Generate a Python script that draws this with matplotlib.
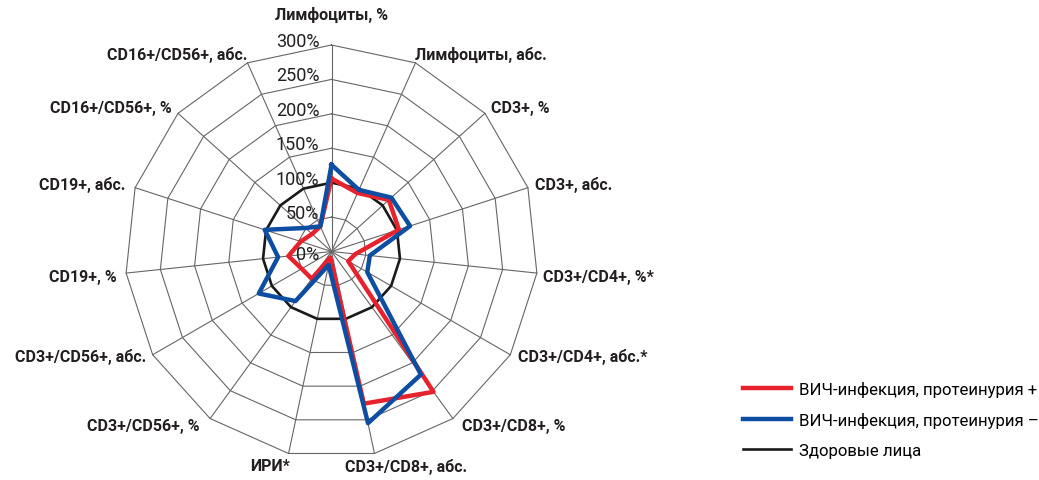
import numpy as np
import matplotlib
matplotlib.use('Agg')
import matplotlib.pyplot as plt

plt.rcParams['font.family'] = ['Roboto', 'DejaVu Sans']

# Показатели иммунного статуса, % от уровня здоровых лиц
categories = [
    'Лимфоциты, %', 'Лимфоциты, абс.', 'CD3+, %', 'CD3+, абс.',
    'CD3+/CD4+, %*', 'CD3+/CD4+, абс.*', 'CD3+/CD8+, %', 'CD3+/CD8+, абс.',
    'ИРИ*', 'CD3+/CD56+, %', 'CD3+/CD56+, абс.', 'CD19+, %',
    'CD19+, абс.', 'CD16+/CD56+, %', 'CD16+/CD56+, абс.',
]
hiv_prot_pos = [106, 93, 112, 103, 35, 28, 252, 226, 9, 49, 50, 63, 47, 38, 40]
hiv_prot_neg = [126, 98, 117, 120, 56, 60, 221, 255, 20, 89, 122, 78, 102, 51, 40]
healthy = [100] * 15
ring_levels = [0, 50, 100, 150, 200, 250, 300]
series_names = ['ВИЧ-инфекция, протеинурия +', 'ВИЧ-инфекция, протеинурия \u2013', 'Здоровые лица']

# сдвиги подписей категорий от вершины внешнего кольца, пиксели (x вправо, y вниз)
label_offsets = [
    ('center', 0, -31), ('left', 0, -9), ('left', 6, -6), ('left', 7, -4),
    ('left', 6, 3), ('left', 8, 1), ('left', 9, 7), ('left', -29, 12.5),
    ('right', 1, 12.5), ('right', -10, 7), ('right', -6, 1), ('right', -9, 3),
    ('right', -10, -4), ('right', -6, -6), ('right', 0, -9),
]

n = len(categories)
angles = np.arange(n) * 2 * np.pi / n


def closed(v):
    v = np.asarray(v, dtype=float)
    return np.append(v, v[0])


fig = plt.figure(figsize=(10.39, 4.81), dpi=100)
ax = fig.add_axes([125 / 1039, 22 / 481, 413 / 1039, 413 / 481], projection='polar')
ax.set_theta_zero_location('N')
ax.set_theta_direction(-1)
ax.set_ylim(0, ring_levels[-1])
ax.axis('off')

grid_color = '#666666'
# многоугольные кольца и лучи сетки
for r in ring_levels[1:]:
    ax.plot(closed(angles), [r] * (n + 1), color=grid_color, lw=0.8, zorder=1, clip_on=False)
for a in angles:
    ax.plot([a, a], [0, ring_levels[-1]], color=grid_color, lw=0.8, zorder=1, clip_on=False)

# подписи шкалы
for r in ring_levels:
    dy = -2.5 if r == 0 else 4
    ax.annotate(f'{r}%', xy=(0, r), xytext=(-8.8, dy * 0.72), textcoords='offset points',
                ha='right', va='center', fontsize=13, color='#231f20', zorder=6)

# подписи категорий
for a, name, (ha, dx, dy) in zip(angles, categories, label_offsets):
    ax.annotate(name, xy=(a, ring_levels[-1]), xytext=(dx * 0.72, -dy * 0.72),
                textcoords='offset points', ha=ha, va='center',
                fontsize=11.5, fontweight='bold', color='#231f20', annotation_clip=False)

l_black, = ax.plot(closed(angles), closed(healthy), color='#1a1a1a', lw=1.9, zorder=2)
l_red, = ax.plot(closed(angles), closed(hiv_prot_pos), color='#e8222d', lw=3.2, zorder=3)
l_blue, = ax.plot(closed(angles), closed(hiv_prot_neg), color='#0d4ea3', lw=3.2, zorder=4)

fig.legend([l_red, l_blue, l_black], series_names, loc='upper left',
           bbox_to_anchor=(743 / 1039, 1 - 382 / 481), frameon=False, fontsize=12.1,
           handlelength=2.85, handletextpad=0.48, labelspacing=0.9, borderpad=0,
           borderaxespad=0)

fig.savefig('out.png', dpi=100, facecolor='white')
